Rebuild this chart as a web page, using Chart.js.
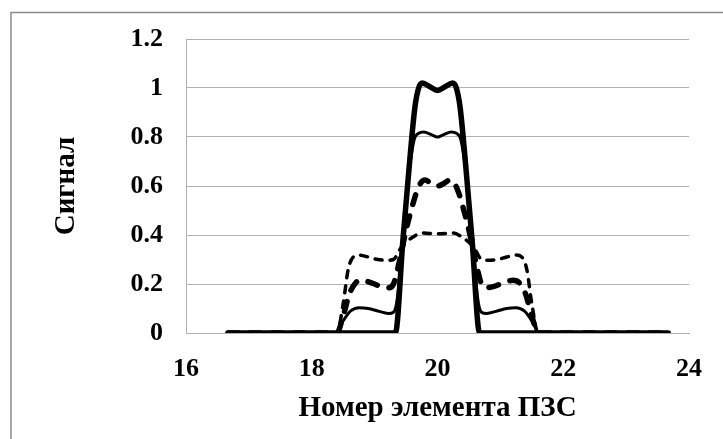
<!DOCTYPE html>
<html>
<head>
<meta charset="utf-8">
<script src="https://cdn.jsdelivr.net/npm/chart.js@4"></script>
<style>
  body { margin: 0; background: #fff; }
  #wrap { position: relative; width: 723px; height: 439px; }
</style>
</head>
<body>
<div id="wrap"><canvas id="signalChart"></canvas></div>
<script>
// Данные
const xTicks = [16, 18, 20, 22, 24];
const yTicks = ['0', '0.2', '0.4', '0.6', '0.8', '1', '1.2'];

// толстая сплошная
const xThick = [16.67, 19.3, 19.33, 19.45, 19.55, 19.64, 19.7, 19.76, 19.88, 20, 20.12, 20.24, 20.3, 20.36, 20.45, 20.55, 20.67, 20.7, 23.67];
const yThick = [0, 0, 0, 0.38, 0.68, 0.92, 1.0, 1.02, 1.005, 0.99, 1.005, 1.02, 1.0, 0.92, 0.68, 0.38, 0, 0, 0];

// тонкая сплошная
const xThin = [16.67, 18.38, 18.5, 18.62, 18.75, 18.9, 19.05, 19.22, 19.3, 19.36, 19.45, 19.55, 19.63, 19.7, 19.78, 19.9, 20, 20.1, 20.22, 20.3, 20.37, 20.45, 20.55, 20.64, 20.7, 20.78, 20.95, 21.1, 21.25, 21.38, 21.5, 21.62, 23.67];
const yThin = [0, 0, 0.05, 0.09, 0.103, 0.1, 0.09, 0.08, 0.085, 0.14, 0.4, 0.66, 0.79, 0.815, 0.82, 0.81, 0.8, 0.81, 0.82, 0.815, 0.79, 0.66, 0.4, 0.14, 0.085, 0.08, 0.09, 0.1, 0.103, 0.09, 0.05, 0, 0];

// толстая пунктирная
const xDashThick = [16.67, 18.4, 18.5, 18.6, 18.7, 18.8, 18.95, 19.1, 19.22, 19.3, 19.4, 19.5, 19.58, 19.66, 19.74, 19.8, 19.9, 20, 20.1, 20.2, 20.26, 20.34, 20.42, 20.5, 20.6, 20.7, 20.78, 20.9, 21.05, 21.2, 21.3, 21.4, 21.5, 21.6, 23.67];
const yDashThick = [0, 0, 0.07, 0.16, 0.205, 0.215, 0.205, 0.19, 0.185, 0.2, 0.3, 0.42, 0.5, 0.57, 0.615, 0.625, 0.61, 0.6, 0.61, 0.625, 0.615, 0.57, 0.5, 0.42, 0.3, 0.2, 0.185, 0.19, 0.205, 0.215, 0.205, 0.16, 0.07, 0, 0];

// тонкая пунктирная
const xDashThin = [16.67, 18.4, 18.5, 18.58, 18.66, 18.75, 18.9, 19.05, 19.2, 19.3, 19.4, 19.5, 19.6, 19.75, 20, 20.25, 20.4, 20.5, 20.6, 20.7, 20.8, 20.95, 21.1, 21.25, 21.34, 21.42, 21.5, 21.6, 23.67];
const yDashThin = [0, 0, 0.12, 0.26, 0.31, 0.318, 0.31, 0.3, 0.297, 0.3, 0.34, 0.37, 0.39, 0.408, 0.405, 0.408, 0.39, 0.37, 0.34, 0.3, 0.297, 0.3, 0.31, 0.318, 0.31, 0.26, 0.12, 0, 0];

function toPoints(xs, ys) {
    return xs.map((x, i) => ({ x: x, y: ys[i] }));
}

// Рамка вокруг всей диаграммы
const outerFrame = {
    id: 'outerFrame',
    beforeDraw(chart) {
        const ctx = chart.ctx;
        ctx.save();
        ctx.strokeStyle = '#8a8a8a';
        ctx.lineWidth = 1.5;
        ctx.beginPath();
        ctx.moveTo(11, 439);
        ctx.lineTo(11, 12.5);
        ctx.lineTo(723, 12.5);
        ctx.stroke();
        ctx.restore();
    }
};

const serif = "'Liberation Serif', 'Times New Roman', serif";

const line = (data, width, dash, order) => ({
    data: data,
    borderColor: '#000',
    borderWidth: width,
    borderDash: dash,
    borderCapStyle: 'round',
    borderJoinStyle: 'round',
    pointRadius: 0,
    showLine: true,
    fill: false,
    cubicInterpolationMode: 'monotone',
    order: order
});

new Chart(document.getElementById('signalChart'), {
    type: 'scatter',
    data: {
        datasets: [
            line(toPoints(xThick, yThick), 5.5, [], 0),
            line(toPoints(xThin, yThin), 3, [], 1),
            line(toPoints(xDashThick, yDashThick), 5.5, [10, 12], 2),
            line(toPoints(xDashThin, yDashThin), 3.5, [7, 8], 3)
        ]
    },
    options: {
        responsive: true,
        maintainAspectRatio: false,
        animation: false,
        devicePixelRatio: 1,
        layout: { padding: { left: 0, right: 25, top: 39, bottom: 0 } },
        plugins: { legend: { display: false }, tooltip: { enabled: false } },
        scales: {
            x: {
                type: 'linear',
                min: 16, max: 24,
                afterBuildTicks: s => { s.ticks = xTicks.map(v => ({ value: v })); },
                afterFit: s => { s.height = 106; },
                ticks: {
                    color: '#000',
                    padding: 21,
                    maxRotation: 0,
                    font: { family: serif, size: 26, weight: 'bold' },
                    callback: v => String(v)
                },
                grid: { display: false, drawTicks: false },
                border: { display: true, color: '#b0b0b0', width: 1 },
                title: {
                    display: true,
                    text: 'Номер элемента ПЗС',
                    color: '#000',
                    padding: { top: 0, bottom: 13 },
                    font: { family: serif, size: 29, weight: 'bold' }
                }
            },
            y: {
                min: 0, max: 1.2,
                afterBuildTicks: s => { s.ticks = yTicks.map(t => ({ value: parseFloat(t) })); },
                afterFit: s => { s.width = 186; },
                ticks: {
                    color: '#000',
                    padding: 23,
                    font: { family: serif, size: 26, weight: 'bold' },
                    callback: (v, i) => yTicks[i]
                },
                grid: { color: '#b0b0b0', lineWidth: 1, drawTicks: false },
                border: { display: true, color: '#b0b0b0', width: 1 },
                title: {
                    display: true,
                    text: 'Сигнал',
                    color: '#000',
                    padding: { top: 49, bottom: 0 },
                    font: { family: serif, size: 29, weight: 'bold' }
                }
            }
        }
    },
    plugins: [outerFrame]
});
</script>
</body>
</html>
